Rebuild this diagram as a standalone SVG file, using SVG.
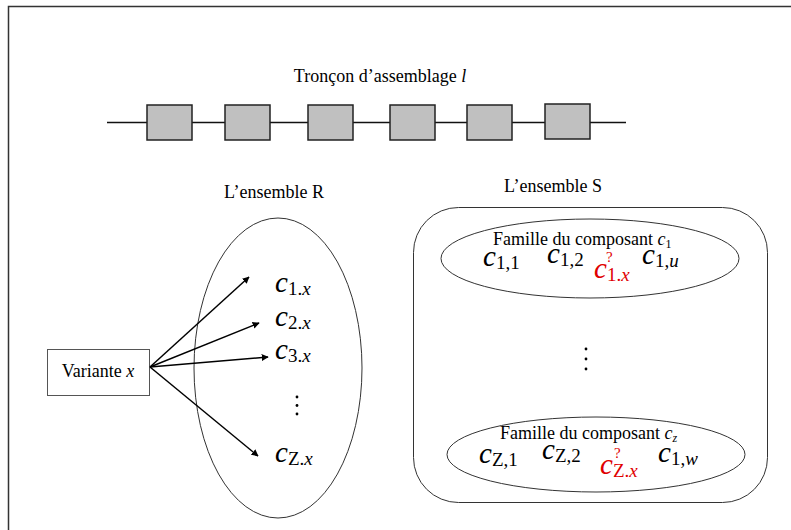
<svg xmlns="http://www.w3.org/2000/svg" width="791" height="530" viewBox="0 0 791 530">
<style>
.t{font-family:"Liberation Serif","Times New Roman",serif;font-size:18px;fill:#000}
.i{font-style:italic}
.m{font-family:"Liberation Serif","Times New Roman",serif;fill:#000}
.c{font-size:29px;font-style:italic}
.s{font-size:19px}
.red{fill:#e00000}
.box{fill:#c0c0c0;stroke:#222;stroke-width:1.5}
.ell{fill:none;stroke:#333;stroke-width:1}
.arr{stroke:#000;stroke-width:1.5;fill:none;marker-end:url(#ah)}
.dot{fill:#000}
</style>
<defs>
<marker id="ah" viewBox="0 0 10 10" refX="9" refY="5" markerWidth="7" markerHeight="7" orient="auto" markerUnits="userSpaceOnUse">
<path d="M0,0 L10,5 L0,10 z" fill="#000"/>
</marker>
</defs>
<rect width="791" height="530" fill="#fff"/>
<path d="M8.5,530 V6.5 H791" fill="none" stroke="#333" stroke-width="1.5"/>

<g id="troncon">
<text class="t" x="380" y="82" text-anchor="middle">Tronçon d’assemblage <tspan class="i">l</tspan></text>
<line x1="107" y1="122.5" x2="626" y2="122.5" stroke="#111" stroke-width="1.5"/>
<rect class="box" x="147" y="105" width="45" height="35"/>
<rect class="box" x="225" y="105" width="45" height="35"/>
<rect class="box" x="308" y="105" width="45" height="35"/>
<rect class="box" x="390" y="105" width="45" height="35"/>
<rect class="box" x="467" y="105" width="45" height="35"/>
<rect class="box" x="545" y="104" width="45" height="35"/>
</g>

<g id="ensemble-R">
<text class="t" x="274" y="198" text-anchor="middle" font-size="19">L’ensemble R</text>
<ellipse class="ell" cx="278" cy="368" rx="84" ry="150"/>
<text class="m" x="275" y="292"><tspan class="c">c</tspan><tspan class="s" dy="3">1.</tspan><tspan class="s i">x</tspan></text>
<text class="m" x="275" y="326"><tspan class="c">c</tspan><tspan class="s" dy="3">2.</tspan><tspan class="s i">x</tspan></text>
<text class="m" x="275" y="359"><tspan class="c">c</tspan><tspan class="s" dy="3">3.</tspan><tspan class="s i">x</tspan></text>
<circle class="dot" cx="297" cy="397" r="1.4"/>
<circle class="dot" cx="297" cy="405.5" r="1.4"/>
<circle class="dot" cx="297" cy="414" r="1.4"/>
<text class="m" x="275" y="462"><tspan class="c">c</tspan><tspan class="s" dy="3">Z.</tspan><tspan class="s i">x</tspan></text>
</g>

<g id="variante">
<rect x="47.5" y="349.5" width="102" height="46" fill="#fff" stroke="#555" stroke-width="1"/>
<text class="t" x="98" y="377" text-anchor="middle" font-size="19">Variante <tspan class="i">x</tspan></text>
</g>

<g id="connectors">
<line class="arr" x1="150" y1="367" x2="249" y2="277"/>
<line class="arr" x1="150" y1="367" x2="259" y2="323"/>
<line class="arr" x1="150" y1="367" x2="268" y2="357"/>
<line class="arr" x1="150" y1="367" x2="258" y2="456"/>
</g>

<g id="ensemble-S">
<text class="t" x="553" y="192" text-anchor="middle" font-size="19">L’ensemble S</text>
<rect class="ell" x="413.5" y="207.5" width="354" height="295" rx="45" ry="45"/>
<circle class="dot" cx="586" cy="349" r="1.4"/>
<circle class="dot" cx="586" cy="359" r="1.4"/>
<circle class="dot" cx="586" cy="369" r="1.4"/>
</g>

<g id="famille-c1">
<ellipse class="ell" cx="590" cy="258.5" rx="149" ry="39.5"/>
<text class="t" x="493" y="245" font-size="18.5">Famille  du composant  <tspan class="i">c</tspan><tspan font-size="12" dy="3">1</tspan></text>
<text class="m" x="483" y="266"><tspan class="c">c</tspan><tspan class="s" dy="3">1,1</tspan></text>
<text class="m" x="547" y="263"><tspan class="c">c</tspan><tspan class="s" dy="3">1,2</tspan></text>
<text class="m red" x="594" y="278"><tspan class="c">c</tspan><tspan class="s" dy="3">1.</tspan><tspan class="s i">x</tspan></text>
<text class="m red" x="606" y="262" font-size="15">?</text>
<text class="m" x="642" y="264"><tspan class="c">c</tspan><tspan class="s" dy="3">1,</tspan><tspan class="s i">u</tspan></text>
</g>

<g id="famille-cz">
<ellipse class="ell" cx="596" cy="454.5" rx="149" ry="37.5"/>
<text class="t" x="500" y="439" font-size="18.5">Famille  du composant <tspan class="i">c</tspan><tspan class="i" font-size="12" dy="3">z</tspan></text>
<text class="m" x="479" y="463"><tspan class="c">c</tspan><tspan class="s" dy="3">Z,1</tspan></text>
<text class="m" x="542" y="459"><tspan class="c">c</tspan><tspan class="s" dy="3">Z,2</tspan></text>
<text class="m red" x="600" y="474"><tspan class="c">c</tspan><tspan class="s" dy="3">Z.</tspan><tspan class="s i">x</tspan></text>
<text class="m red" x="614" y="458" font-size="15">?</text>
<text class="m" x="658" y="462"><tspan class="c">c</tspan><tspan class="s" dy="3">1,</tspan><tspan class="s i">w</tspan></text>
</g>
</svg>
